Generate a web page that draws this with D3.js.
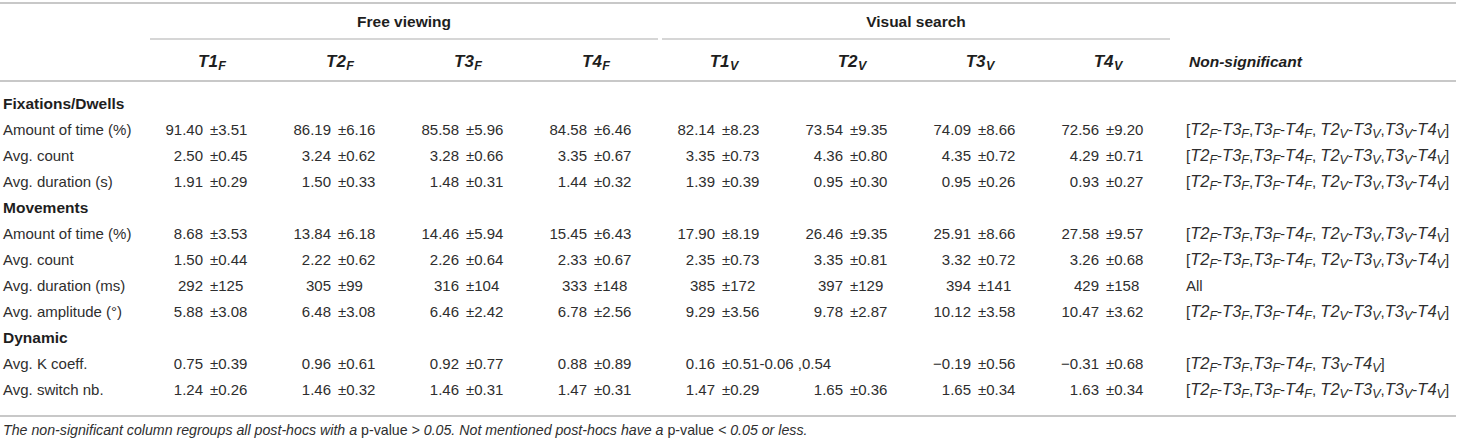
<!DOCTYPE html>
<html>
<head>
<meta charset="utf-8">
<script src="https://cdn.jsdelivr.net/npm/d3@7"></script>
<style>
  html, body { margin: 0; padding: 0; background: #fff; }
  svg { display: block; font-family: "Liberation Sans", Arial, Helvetica, sans-serif; }
</style>
</head>
<body>
<svg id="chart" width="1458" height="442"></svg>
<script>
// ---------- DATA ----------
const groups = ["Free viewing", "Visual search"];
const columns = ["T1F", "T2F", "T3F", "T4F", "T1V", "T2V", "T3V", "T4V"];
const columnLabels = [["T1","F"],["T2","F"],["T3","F"],["T4","F"],["T1","V"],["T2","V"],["T3","V"],["T4","V"]];
const columnGroups = ["Free viewing","Free viewing","Free viewing","Free viewing","Visual search","Visual search","Visual search","Visual search"];
const nonSigHeader = "Non-significant";

const sections = ["Fixations/Dwells", "Movements", "Dynamic"];
const rowLabels = [
  "Amount of time (%)", "Avg. count", "Avg. duration (s)",
  "Amount of time (%)", "Avg. count", "Avg. duration (ms)", "Avg. amplitude (°)",
  "Avg. K coeff.", "Avg. switch nb."
];
const rowSections = [0, 0, 0, 1, 1, 1, 1, 2, 2];

const means = [
  ["91.40","86.19","85.58","84.58","82.14","73.54","74.09","72.56"],
  ["2.50","3.24","3.28","3.35","3.35","4.36","4.35","4.29"],
  ["1.91","1.50","1.48","1.44","1.39","0.95","0.95","0.93"],
  ["8.68","13.84","14.46","15.45","17.90","26.46","25.91","27.58"],
  ["1.50","2.22","2.26","2.33","2.35","3.35","3.32","3.26"],
  ["292","305","316","333","385","397","394","429"],
  ["5.88","6.48","6.46","6.78","9.29","9.78","10.12","10.47"],
  ["0.75","0.96","0.92","0.88","0.16","","\u22120.19","\u22120.31"],
  ["1.24","1.46","1.46","1.47","1.47","1.65","1.65","1.63"]
];
const sds = [
  ["3.51","6.16","5.96","6.46","8.23","9.35","8.66","9.20"],
  ["0.45","0.62","0.66","0.67","0.73","0.80","0.72","0.71"],
  ["0.29","0.33","0.31","0.32","0.39","0.30","0.26","0.27"],
  ["3.53","6.18","5.94","6.43","8.19","9.35","8.66","9.57"],
  ["0.44","0.62","0.64","0.67","0.73","0.81","0.72","0.68"],
  ["125","99","104","148","172","129","141","158"],
  ["3.08","3.08","2.42","2.56","3.56","2.87","3.58","3.62"],
  ["0.39","0.61","0.77","0.89","0.51-0.06 ,0.54","","0.56","0.68"],
  ["0.26","0.32","0.31","0.31","0.29","0.36","0.34","0.34"]
];
const nonSig = [
  ["T2F-T3F","T3F-T4F","T2V-T3V","T3V-T4V"],
  ["T2F-T3F","T3F-T4F","T2V-T3V","T3V-T4V"],
  ["T2F-T3F","T3F-T4F","T2V-T3V","T3V-T4V"],
  ["T2F-T3F","T3F-T4F","T2V-T3V","T3V-T4V"],
  ["T2F-T3F","T3F-T4F","T2V-T3V","T3V-T4V"],
  "All",
  ["T2F-T3F","T3F-T4F","T2V-T3V","T3V-T4V"],
  ["T2F-T3F","T3F-T4F","T3V-T4V"],
  ["T2F-T3F","T3F-T4F","T2V-T3V","T3V-T4V"]
];
const footnoteParts = [
  ["The non-significant column regroups all post-hocs with a ", true],
  ["p-value", false],
  [" > 0.05. Not mentioned post-hocs have a ", true],
  ["p-value", false],
  [" < 0.05 or less.", true]
];

// ---------- LAYOUT ----------
const svg = d3.select("#chart");
const textColor = "#2e2e2e";
const headColor = "#1e1e1e";
const lineColor = "#c8c8c8";
const fs = 15, fsBold = 15.5;

const x = d3.scaleBand().domain(columns).range([148, 1172]);
const nsX = 1186;

const lineKeys = [];
sections.forEach((s, si) => {
  lineKeys.push("s" + si);
  rowLabels.forEach((r, ri) => { if (rowSections[ri] === si) lineKeys.push("r" + ri); });
});
const y = d3.scalePoint().domain(lineKeys).range([104, 390]);
const base = 5;

// append segments with sub/baseline tracking
function appendSegments(textSel, segs) {
  let cur = 0;
  segs.forEach(sg => {
    const target = sg.sub ? 3 : 0;
    const t = textSel.append("tspan").text(sg.text);
    if (target !== cur) { t.attr("dy", target - cur); cur = target; }
    if (sg.size) t.attr("font-size", sg.size);
    if (sg.italic) t.attr("font-style", "italic");
    if (sg.dx) t.attr("dx", sg.dx);
  });
}

// ---------- LINES ----------
[[3, 2], [81, 2], [416, 2]].forEach(([yy, w]) => {
  svg.append("line").attr("x1", 0).attr("x2", 1456).attr("y1", yy).attr("y2", yy)
    .attr("stroke", lineColor).attr("stroke-width", w);
});

groups.forEach(g => {
  const cols = columns.filter((c, i) => columnGroups[i] === g);
  const x0 = x(cols[0]) + 2, x1 = x(cols[cols.length - 1]) + x.bandwidth() - 2;
  svg.append("line").attr("x1", x0).attr("x2", x1).attr("y1", 39).attr("y2", 39)
    .attr("stroke", lineColor).attr("stroke-width", 1.6);
  svg.append("text").attr("x", (x0 + x1) / 2).attr("y", 27)
    .attr("text-anchor", "middle").attr("font-weight", "bold").attr("font-size", fsBold)
    .attr("fill", headColor).text(g);
});

// ---------- COLUMN HEADERS ----------
columns.forEach((c, i) => {
  const t = svg.append("text").attr("x", x(c) + x.bandwidth() / 2).attr("y", 67)
    .attr("text-anchor", "middle").attr("font-weight", "bold").attr("font-style", "italic")
    .attr("font-size", 17).attr("fill", headColor);
  appendSegments(t, [
    { text: columnLabels[i][0] },
    { text: columnLabels[i][1], sub: true, size: 12.5, dx: 0.5 }
  ]);
});
svg.append("text").attr("x", nsX + 3).attr("y", 67)
  .attr("font-weight", "bold").attr("font-style", "italic").attr("font-size", fsBold)
  .attr("fill", headColor).text(nonSigHeader);

// ---------- SECTIONS ----------
sections.forEach((s, si) => {
  svg.append("text").attr("x", 3).attr("y", y("s" + si) + base)
    .attr("font-weight", "bold").attr("font-size", fsBold).attr("fill", headColor).text(s);
});

// ---------- ROWS ----------
function nsSegments(tokens) {
  if (typeof tokens === "string") return [{ text: tokens }];
  const segs = [{ text: "[" }];
  tokens.forEach((tok, k) => {
    const [a, b] = tok.split("-");
    [a, b].forEach((p, pi) => {
      segs.push({ text: p.slice(0, 2), italic: true, size: 16.5 });
      segs.push({ text: p[2], italic: true, size: 12.5, sub: true });
      if (pi === 0) segs.push({ text: "-" });
    });
    if (k < tokens.length - 1) {
      segs.push({ text: (tok[2] !== tokens[k + 1][2]) ? ", " : "," });
    }
  });
  segs.push({ text: "]" });
  return segs;
}

rowLabels.forEach((lab, ri) => {
  const yy = y("r" + ri) + base;
  svg.append("text").attr("x", 3).attr("y", yy).attr("font-size", fs).attr("fill", textColor).text(lab);
  columns.forEach((c, ci) => {
    const m = means[ri][ci], s = sds[ri][ci];
    if (!m) return;
    const cx = x(c) + x.bandwidth() / 2;
    svg.append("text").attr("x", cx - 9).attr("y", yy).attr("text-anchor", "end")
      .attr("font-size", fs).attr("fill", textColor).text(m);
    svg.append("text").attr("x", cx - 2).attr("y", yy)
      .attr("font-size", fs).attr("fill", textColor).text("\u00b1" + s);
  });
  const t = svg.append("text").attr("x", nsX).attr("y", yy).attr("font-size", fs).attr("fill", textColor);
  appendSegments(t, nsSegments(nonSig[ri]));
});

// ---------- FOOTNOTE ----------
const fn = svg.append("text").attr("x", 3).attr("y", 435).attr("font-size", 14.2).attr("fill", textColor);
footnoteParts.forEach(([txt, it]) => {
  fn.append("tspan").attr("font-style", it ? "italic" : "normal").text(txt);
});
</script>
</body>
</html>
